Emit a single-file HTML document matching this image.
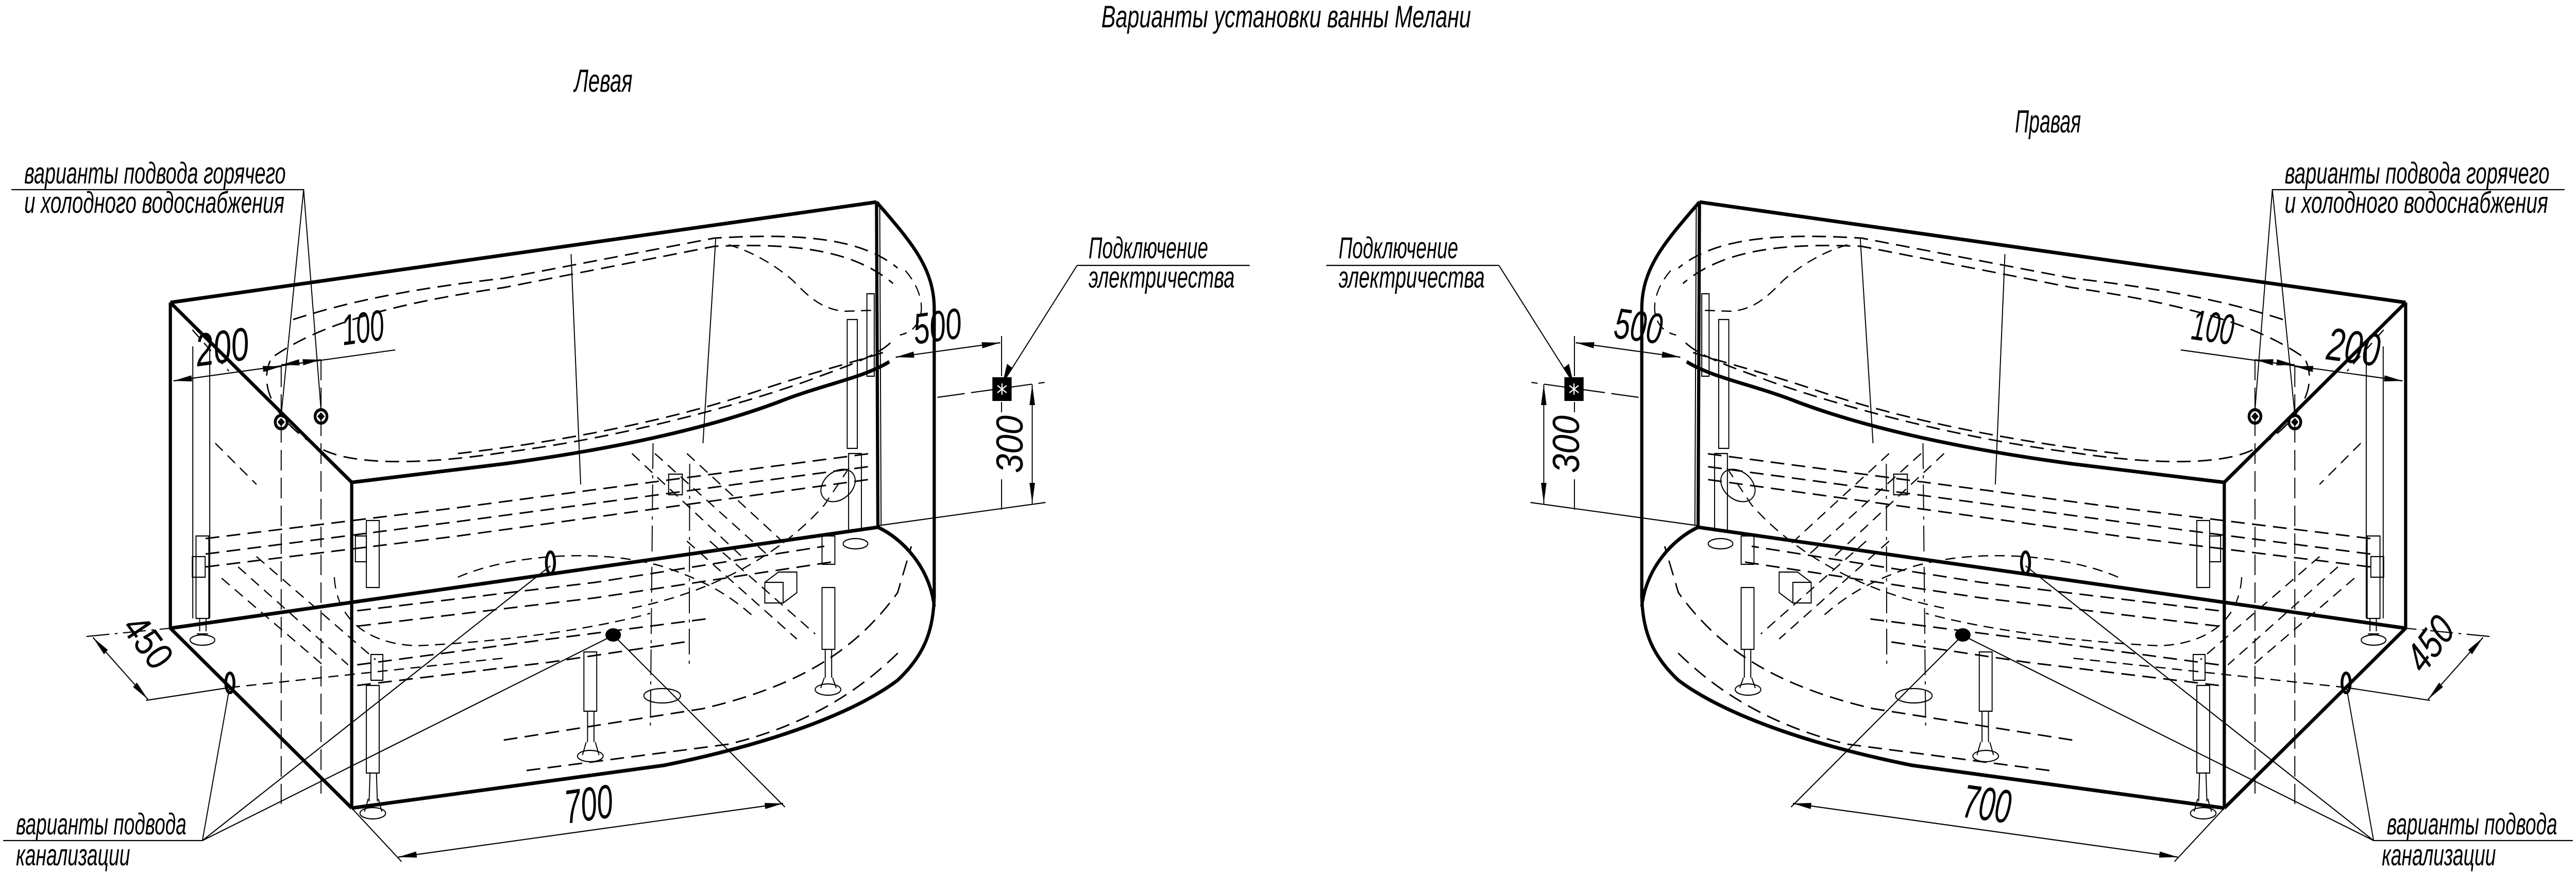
<!DOCTYPE html>
<html><head><meta charset="utf-8"><style>
html,body{margin:0;padding:0;background:#fff;width:100%;height:100%;overflow:hidden}
svg{display:block;width:100vw;height:100vh}
text{font-family:"Liberation Sans","DejaVu Sans",sans-serif;font-style:italic;fill:#000}
.k{stroke:#000;stroke-width:7;fill:none;stroke-linejoin:round}
.m{stroke:#000;stroke-width:3.5;fill:none}
.t{stroke:#000;stroke-width:2.2;fill:none}
.d{stroke:#000;stroke-width:3;fill:none;stroke-dasharray:30 16}
.d2{stroke:#000;stroke-width:2.5;fill:none;stroke-dasharray:22 14}
.dc{stroke:#000;stroke-width:2.2;fill:none;stroke-dasharray:50 12 6 12}
</style></head><body>
<svg viewBox="0 0 5625 1692" preserveAspectRatio="none" xmlns="http://www.w3.org/2000/svg">
<defs>
<marker id="ar" viewBox="0 0 40 12" refX="40" refY="6" markerWidth="40" markerHeight="12" markerUnits="userSpaceOnUse" orient="auto-start-reverse">
<path d="M0,0 L40,6 L0,12 Z" fill="#000"/>
</marker>
<g id="L">
<path class="k" d="M372,587 L1914,392"/>
<path class="k" d="M372,587 L768,936"/>
<path class="k" d="M372,587 L372,1219 L768,1568"/>
<path class="k" d="M372,1219 L1917,1023"/>
<path class="k" d="M768,936 L768,1568"/>
<path class="k" d="M1914,392 L1917,1023"/>
<path class="k" d="M1914,392 C1990,470 2040,520 2040,600 L2040,1160"/>
<path class="k" d="M768,1568 L1450,1485 C1700,1440 1870,1380 1960,1320 C2020,1270 2040,1220 2040,1150"/>
<path class="k" d="M768,936 L1100,900 C1350,870 1550,830 1700,780 C1800,745 1880,735 1942,702"/>
<path class="k" d="M1917,1023 C1970,1045 2030,1100 2040,1177"/>
<path class="t" d="M1921,400 L1924,1020"/>
<path class="t" d="M380,595 L765,930"/>
<path class="d" d="M640,620 C760,585 900,560 1100,540 L1560,462 C1750,452 1880,462 1960,520"/>
<path class="d" d="M600,690 C700,630 850,590 1100,558 L1560,478 C1750,470 1870,490 1950,550"/>
<path class="d" d="M590,700 C560,760 620,830 700,870 C760,900 900,905 1100,878 C1350,850 1600,790 1760,740 C1850,710 1920,690 1950,660"/>
<path class="d" d="M1000,880 C1200,860 1450,820 1650,760 C1780,720 1880,700 1940,680"/>
<path class="d2" d="M1591,475 C1650,490 1700,520 1731,544 C1760,570 1790,600 1844,604 L1910,602"/>
<path class="d2" d="M1977,525 C2030,580 2020,640 1965,650"/>
<path class="t" d="M1247,493 L1268,940"/>
<path class="t" d="M1563,461 L1535,860"/>
<path class="dc" d="M1426,860 L1420,1420"/>
<path class="dc" d="M1506,900 L1505,1300"/>
<path class="d" d="M449,1045 L1000,985 L1900,880"/>
<path class="d" d="M449,1075 L1000,1012 L1900,905"/>
<path class="d" d="M449,1100 L1000,1040 L1900,930"/>
<path class="d" d="M780,1185 L1300,1130 L1800,1060"/>
<path class="d" d="M780,1215 L1300,1160 L1820,1090"/>
<path class="d" d="M780,1290 L1200,1240 L1550,1200"/>
<path class="d" d="M780,1330 L1200,1285 L1500,1245"/>
<path class="d" d="M1100,1436 L1535,1375 C1750,1330 1870,1260 1960,1150 L1990,1060"/>
<path class="d" d="M1150,1495 L1591,1444 C1750,1410 1870,1347 1963,1265"/>
<path class="d2" d="M730,1120 C735,1200 800,1250 912,1253 C1100,1245 1300,1220 1420,1190"/>
<path class="d2" d="M1380,1180 C1550,1150 1700,1080 1800,980 L1860,900"/>
<path class="d2" d="M1000,1120 C1100,1080 1300,1060 1450,1100 C1550,1130 1600,1160 1650,1200"/>
<path class="d2" d="M484,1122 L702,1288"/>
<path class="d2" d="M520,1100 L760,1290"/>
<path class="d2" d="M560,1080 L820,1280"/>
<path class="d2" d="M1380,880 L1620,1080"/>
<path class="d2" d="M1430,880 L1680,1080"/>
<path class="d2" d="M1500,880 L1720,1060"/>
<path class="d2" d="M1500,1050 L1740,1240"/>
<path class="d2" d="M1550,1050 L1780,1230"/>
<path class="d2" d="M420,640 L500,720"/>
<path class="d2" d="M470,860 L560,940"/>
<g class="t">
<path d="M421,672 L421,1200"/><path d="M458,672 L458,1200"/>
<rect x="428" y="1040" width="28" height="160"/><path d="M436,1200 L436,1225 M450,1200 L450,1225"/>
<ellipse cx="442" cy="1242" rx="27" ry="10"/><path d="M430,1230 L454,1230"/>
<rect x="800" y="1010" width="28" height="130"/><rect x="800" y="1330" width="28" height="170"/>
<path d="M808,1500 L806,1555 M822,1500 L824,1555"/><path d="M804,1550 L796,1575 M826,1550 L834,1575"/>
<ellipse cx="814" cy="1578" rx="28" ry="11"/>
<rect x="1275" y="1265" width="28" height="115"/><path d="M1283,1380 L1283,1440 M1297,1380 L1297,1440"/><path d="M1280,1440 L1272,1465 M1300,1440 L1308,1465"/>
<ellipse cx="1289" cy="1467" rx="28" ry="11"/>
<rect x="1795" y="1140" width="28" height="120"/><rect x="1795" y="1040" width="28" height="55"/><path d="M1802,1260 L1802,1315 M1816,1260 L1816,1315"/><path d="M1800,1315 L1792,1335 M1818,1315 L1826,1335"/>
<ellipse cx="1808" cy="1338" rx="28" ry="11"/>
<rect x="1853" y="880" width="28" height="150"/><ellipse cx="1868" cy="1055" rx="27" ry="10"/>
<rect x="1850" y="620" width="22" height="250"/><rect x="1893" y="570" width="16" height="160"/>
<rect x="1670" y="1130" width="40" height="40"/><path d="M1670,1130 L1700,1110 L1740,1110 L1740,1150 L1710,1170"/>
<rect x="1460" y="920" width="30" height="40"/>
<rect x="420" y="1080" width="28" height="40"/>
<rect x="776" y="1040" width="24" height="50"/><rect x="810" y="1270" width="26" height="50"/>
<ellipse cx="1446" cy="1350" rx="40" ry="14"/>
<ellipse cx="1830" cy="942" rx="40" ry="28" transform="rotate(-30 1830 942)"/>
</g>
<g>
<circle cx="614" cy="819" r="13" fill="none" stroke="#000" stroke-width="6"/>
<path d="M614,811 L622,819 L614,827 L606,819 Z" fill="#000"/>
<circle cx="701" cy="808" r="13" fill="none" stroke="#000" stroke-width="6"/>
<path d="M701,800 L709,808 L701,816 L693,808 Z" fill="#000"/>
</g>
<path class="t" d="M25,368 L663,368 L614,805 M663,368 L701,795"/>
<path class="t" d="M614,711 L614,1560 M701,698 L701,1540" stroke-dasharray="40 14"/>
<path class="t" d="M379,739 L863,679"/>
<path class="t" d="M420,734 L379,739" marker-end="url(#ar)"/>
<path class="t" d="M574,716 L614,711" marker-end="url(#ar)"/>
<path class="t" d="M654,703 L614,708" marker-end="url(#ar)"/>
<path class="t" d="M661,703 L701,698" marker-end="url(#ar)"/>
<path class="t" d="M1956,693 L2184,665"/>
<path class="t" d="M1996,688 L1956,693" marker-end="url(#ar)"/>
<path class="t" d="M2144,670 L2184,665" marker-end="url(#ar)"/>
<path class="t" d="M2187,652 L2187,730 M2187,780 L2187,800 M2187,930 L2187,989"/>
<path class="t" d="M2047,771 L2281,742" stroke-dasharray="60 14"/>
<path class="t" d="M1917,1020 L2283,975"/>
<path class="t" d="M2254,746 L2254,977"/>
<path class="t" d="M2254,786 L2254,746" marker-end="url(#ar)"/>
<path class="t" d="M2254,937 L2254,977" marker-end="url(#ar)"/>
<rect x="2167" y="732" width="42" height="46" fill="#000"/>
<path d="M2178,748 L2198,762 M2198,748 L2178,762 M2188,744 L2188,766" stroke="#fff" stroke-width="2.5"/>
<path class="t" d="M2352,515 L2729,515 M2352,515 L2189,744"/>
<path d="M2189,744 L2199,706 L2211,714 Z" fill="#000"/>
<path class="dc" d="M189,1235 L372,1219"/>
<path class="t" d="M319,1359 L502,1334"/>
<path class="d2" d="M502,1334 L1100,1277"/>
<path class="t" d="M203,1237 L323,1357"/>
<path class="t" d="M228,1262 L203,1237" marker-end="url(#ar)"/>
<path class="t" d="M298,1332 L323,1357" marker-end="url(#ar)"/>
<ellipse cx="502" cy="1325" rx="9" ry="19" fill="none" stroke="#000" stroke-width="6"/>
<ellipse cx="1202" cy="1092" rx="9" ry="21" fill="none" stroke="#000" stroke-width="6"/>
<ellipse cx="1339" cy="1232" rx="17" ry="13" fill="#000"/>
<path class="t" d="M7,1631 L442,1631 L502,1330 M442,1631 L1202,1098 M442,1631 L1330,1237"/>
<path class="t" d="M768,1568 L877,1672 M1339,1232 L1714,1566"/>
<path class="t" d="M870,1663 L1710,1559"/>
<path class="t" d="M910,1658 L870,1663" marker-end="url(#ar)"/>
<path class="t" d="M1670,1564 L1710,1559" marker-end="url(#ar)"/>
</g>
</defs>
<use href="#L"/>
<use href="#L" transform="matrix(-1 0 0 1 5625 0)"/>

<text x="2405" y="53" font-size="60" textLength="807" lengthAdjust="spacingAndGlyphs">Варианты установки ванны Мелани</text>
<text x="1254" y="178" font-size="62" textLength="127" lengthAdjust="spacingAndGlyphs">Левая</text>
<text x="4400" y="257" font-size="62" textLength="144" lengthAdjust="spacingAndGlyphs">Правая</text>

<text x="53" y="356" font-size="58" textLength="571" lengthAdjust="spacingAndGlyphs">варианты подвода горячего</text>
<text x="53" y="413" font-size="58" textLength="568" lengthAdjust="spacingAndGlyphs">и холодного водоснабжения</text>
<text x="4989" y="356" font-size="58" textLength="578" lengthAdjust="spacingAndGlyphs">варианты подвода горячего</text>
<text x="4989" y="413" font-size="58" textLength="575" lengthAdjust="spacingAndGlyphs">и холодного водоснабжения</text>

<text x="2377" y="501" font-size="58" textLength="261" lengthAdjust="spacingAndGlyphs">Подключение</text>
<text x="2377" y="558" font-size="58" textLength="319" lengthAdjust="spacingAndGlyphs">электричества</text>
<text x="2923" y="501" font-size="58" textLength="261" lengthAdjust="spacingAndGlyphs">Подключение</text>
<text x="2923" y="558" font-size="58" textLength="319" lengthAdjust="spacingAndGlyphs">электричества</text>

<text x="35" y="1619" font-size="58" textLength="372" lengthAdjust="spacingAndGlyphs">варианты подвода</text>
<text x="35" y="1679" font-size="58" textLength="249" lengthAdjust="spacingAndGlyphs">канализации</text>
<text x="5212" y="1619" font-size="58" textLength="372" lengthAdjust="spacingAndGlyphs">варианты подвода</text>
<text x="5201" y="1679" font-size="58" textLength="249" lengthAdjust="spacingAndGlyphs">канализации</text>

<text x="431" y="711" font-size="90" textLength="116" lengthAdjust="spacingAndGlyphs" transform="rotate(-7 431 711)">200</text>
<text x="750" y="670" font-size="84" textLength="92" lengthAdjust="spacingAndGlyphs" transform="rotate(-7 750 670)">100</text>
<text x="1998" y="668" font-size="84" textLength="105" lengthAdjust="spacingAndGlyphs" transform="rotate(-7 1998 668)">500</text>
<text x="0" y="0" font-size="82" textLength="112" lengthAdjust="spacingAndGlyphs" transform="translate(2233,918) rotate(-90)">300</text>
<text x="0" y="0" font-size="82" textLength="112" lengthAdjust="spacingAndGlyphs" transform="translate(265,1220) rotate(50)">450</text>
<text x="1237" y="1598" font-size="92" textLength="105" lengthAdjust="spacingAndGlyphs" transform="rotate(-7 1237 1598)">700</text>

<text x="5078" y="697" font-size="90" textLength="116" lengthAdjust="spacingAndGlyphs" transform="rotate(7 5078 697)">200</text>
<text x="4783" y="658" font-size="84" textLength="92" lengthAdjust="spacingAndGlyphs" transform="rotate(7 4783 658)">100</text>
<text x="3522" y="655" font-size="84" textLength="105" lengthAdjust="spacingAndGlyphs" transform="rotate(7 3522 655)">500</text>
<text x="0" y="0" font-size="82" textLength="112" lengthAdjust="spacingAndGlyphs" transform="translate(3448,918) rotate(-90)">300</text>
<text x="0" y="0" font-size="82" textLength="112" lengthAdjust="spacingAndGlyphs" transform="translate(5292,1310) rotate(-50)">450</text>
<text x="4283" y="1585" font-size="92" textLength="105" lengthAdjust="spacingAndGlyphs" transform="rotate(7 4283 1585)">700</text>
</svg>
</body></html>
